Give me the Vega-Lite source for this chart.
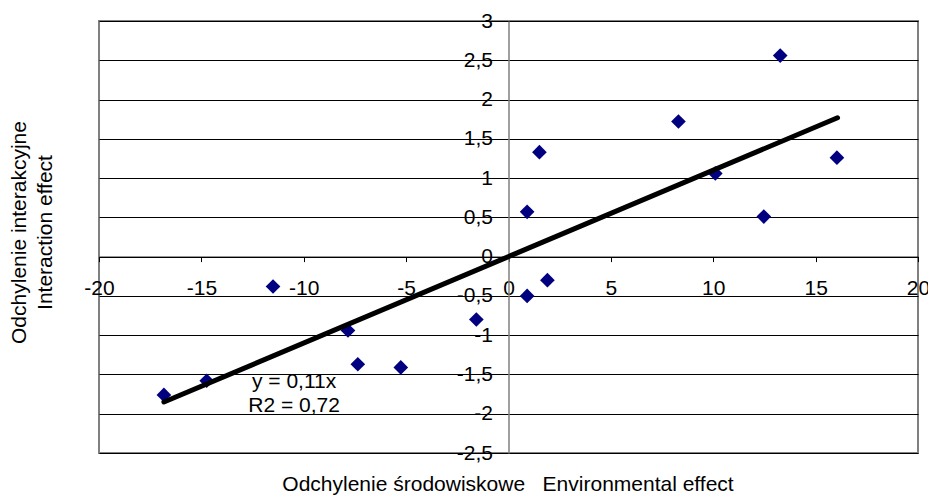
{
  "$schema": "https://vega.github.io/schema/vega-lite/v6.json",
  "width": 819,
  "height": 432,
  "autosize": {"type": "none"},
  "padding": {"left": 99, "top": 21, "right": 10, "bottom": 44},
  "background": "white",
  "config": {
    "font": "Liberation Sans",
    "view": {"stroke": "#808080", "strokeWidth": 2},
    "axis": {"labelFont": "Liberation Sans", "titleFont": "Liberation Sans", "labelFontSize": 21, "titleFontSize": 21, "labelColor": "#000", "titleColor": "#000", "titleFontWeight": "normal"}
  },
  "datasets": {
    "points": [
      {"x": -16.83, "y": -1.76},
      {"x": -14.74, "y": -1.58},
      {"x": -11.5, "y": -0.38},
      {"x": -7.84, "y": -0.94},
      {"x": -7.36, "y": -1.37},
      {"x": -5.26, "y": -1.41},
      {"x": -1.57, "y": -0.8},
      {"x": 0.91, "y": -0.5},
      {"x": 0.91, "y": 0.57},
      {"x": 1.51, "y": 1.33},
      {"x": 1.9, "y": -0.3},
      {"x": 8.3, "y": 1.72},
      {"x": 10.1, "y": 1.06},
      {"x": 12.47, "y": 0.51},
      {"x": 13.27, "y": 2.56},
      {"x": 16.04, "y": 1.26}
    ],
    "trend": [
      {"x": -16.83, "y": -1.851},
      {"x": 16.07, "y": 1.768}
    ],
    "labels": [
      {"x": -10.47, "y": -1.59, "t": "y = 0,11x"},
      {"x": -10.47, "y": -1.907, "t": "R2 = 0,72"}
    ]
  },
  "layer": [
    {
      "data": {"name": "points"},
      "mark": {"type": "point", "shape": "diamond", "filled": true, "color": "#000080", "opacity": 1, "size": 215},
      "encoding": {
        "x": {
          "field": "x", "type": "quantitative",
          "scale": {"domain": [-20, 20], "nice": false, "zero": false},
          "axis": {
            "orient": "bottom", "offset": -196.4,
            "values": [-20, -15, -10, -5, 0, 5, 10, 15, 20],
            "tickCount": 30,
            "labelExpr": "replace(toString(datum.value), '.', ',')",
            "grid": false,
            "domainColor": "#000", "domainWidth": 1,
            "tickColor": "#000", "tickSize": 5, "tickWidth": 1,
            "labelPadding": 16, "labelFlush": false, "labelOverlap": false,
            "title": "Odchylenie środowiskowe\u00a0\u00a0\u00a0Environmental effect",
            "titleX": 408.5, "titleY": 234, "titleAlign": "center", "titleBaseline": "alphabetic", "titleAnchor": null
          }
        },
        "y": {
          "field": "y", "type": "quantitative",
          "scale": {"domain": [-2.5, 3], "nice": false, "zero": false},
          "axis": {
            "orient": "left", "offset": -409.5,
            "values": [-2.5, -2, -1.5, -1, -0.5, 0, 0.5, 1, 1.5, 2, 2.5, 3],
            "tickCount": 30,
            "labelExpr": "replace(toString(datum.value), '.', ',')",
            "grid": true, "gridColor": "#000", "gridWidth": 1, "gridOpacity": 1,
            "domainColor": "#808080", "domainWidth": 1.5,
            "tickColor": "#000", "tickSize": 4, "tickWidth": 1,
            "labelPadding": 12, "labelFlush": false, "labelOverlap": false, "labelBaseline": "middle",
            "title": ["Odchylenie interakcyjne", "Interaction effect"],
            "titleX": -489.5, "titleY": 211, "titleAngle": -90, "titleAlign": "center", "titleBaseline": "middle", "titleLineHeight": 26, "titleAnchor": null
          }
        }
      }
    },
    {
      "data": {"name": "trend"},
      "mark": {"type": "line", "color": "#000", "strokeWidth": 5, "strokeCap": "round"},
      "encoding": {
        "x": {"field": "x", "type": "quantitative"},
        "y": {"field": "y", "type": "quantitative"}
      }
    },
    {
      "data": {"name": "labels"},
      "mark": {"type": "text", "fontSize": 21, "font": "Liberation Sans", "color": "#000", "align": "center", "baseline": "middle"},
      "encoding": {
        "x": {"field": "x", "type": "quantitative"},
        "y": {"field": "y", "type": "quantitative"},
        "text": {"field": "t"}
      }
    }
  ]
}
